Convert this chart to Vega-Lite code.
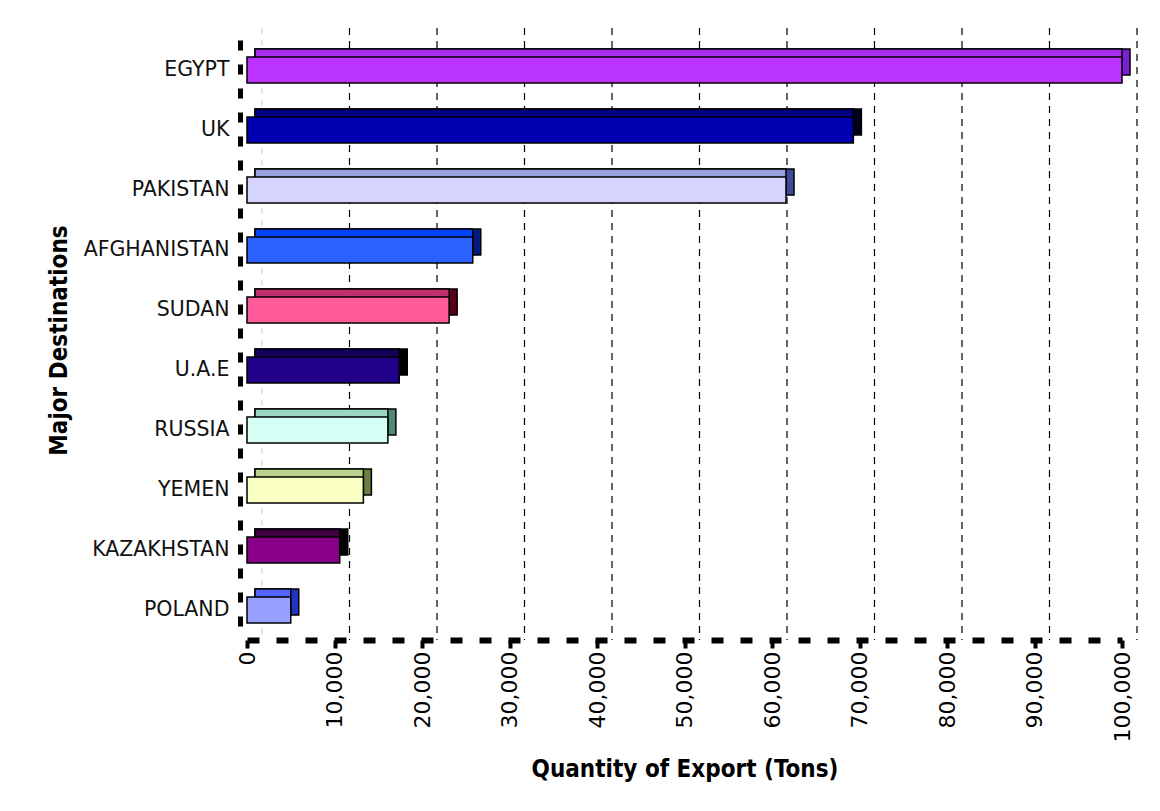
{
  "$schema": "https://vega.github.io/schema/vega-lite/v6.json",
  "autosize": "none",
  "width": 875,
  "height": 600,
  "padding": {"left": 247, "top": 40, "right": 38, "bottom": 171},
  "background": "white",
  "config": {
    "view": {"stroke": null},
    "font": "DejaVu Sans"
  },
  "datasets": {
    "exports": [
      {"country": "EGYPT", "tons": 100000},
      {"country": "UK", "tons": 69300},
      {"country": "PAKISTAN", "tons": 61600},
      {"country": "AFGHANISTAN", "tons": 25800},
      {"country": "SUDAN", "tons": 23100},
      {"country": "U.A.E", "tons": 17400},
      {"country": "RUSSIA", "tons": 16100},
      {"country": "YEMEN", "tons": 13300},
      {"country": "KAZAKHSTAN", "tons": 10600},
      {"country": "POLAND", "tons": 5000}
    ],
    "grid": [
      {"g": 10000}, {"g": 20000}, {"g": 30000}, {"g": 40000}, {"g": 50000},
      {"g": 60000}, {"g": 70000}, {"g": 80000}, {"g": 90000}, {"g": 100000}
    ],
    "grid0": [{"g": 0}]
  },
  "layer": [
    {
      "data": {"name": "grid0"},
      "mark": {"type": "rule", "color": "#cccccc", "strokeWidth": 1, "strokeDash": [6, 6], "xOffset": 15, "yOffset": -12, "y2Offset": -10},
      "encoding": {"x": {"field": "g", "type": "quantitative", "scale": {"domain": [0, 100000]}}}
    },
    {
      "data": {"name": "grid"},
      "mark": {"type": "rule", "color": "black", "strokeWidth": 1.2, "strokeDash": [7, 6], "xOffset": 15, "yOffset": -12, "y2Offset": -10},
      "encoding": {"x": {"field": "g", "type": "quantitative"}}
    },
    {
      "data": {"name": "exports"},
      "mark": {"type": "bar", "stroke": "black", "strokeWidth": 1.5, "xOffset": 8, "x2Offset": 8, "yOffset": -8, "y2Offset": -8},
      "encoding": {
        "y": {
          "field": "country", "type": "nominal", "sort": null, "title": "Major Destinations",
          "scale": {"paddingInner": 0.567, "paddingOuter": 0.283},
          "axis": {
            "offset": 7, "domainColor": "black", "domainWidth": 5, "domainDash": [10, 14],
            "ticks": false, "labelPadding": 11, "labelFont": "DejaVu Sans", "labelFontSize": 20.5, "labelColor": "#111111",
            "titleFont": "DejaVu Sans Condensed", "titleFontWeight": "bold", "titleFontSize": 24, "titleColor": "black", "titlePadding": 12
          }
        },
        "x": {"field": "tons", "type": "quantitative"},
        "x2": {"datum": 0},
        "fill": {
          "field": "country", "type": "nominal", "legend": null,
          "scale": {
            "domain": ["EGYPT", "UK", "PAKISTAN", "AFGHANISTAN", "SUDAN", "U.A.E", "RUSSIA", "YEMEN", "KAZAKHSTAN", "POLAND"],
            "range": ["#7a1fd6", "#000018", "#3e4a99", "#001a80", "#5a0018", "#000000", "#4e8a7a", "#6a8040", "#000000", "#1f35c0"]
          }
        }
      }
    },
    {
      "data": {"name": "exports"},
      "mark": {"type": "bar", "stroke": "black", "strokeWidth": 1.5, "xOffset": 0, "x2Offset": 8, "yOffset": -8, "y2Offset": -8},
      "encoding": {
        "y": {"field": "country", "type": "nominal", "sort": null},
        "x": {"field": "tons", "type": "quantitative"},
        "x2": {"datum": 0},
        "fill": {
          "field": "country", "type": "nominal", "legend": null,
          "scale": {
            "domain": ["EGYPT", "UK", "PAKISTAN", "AFGHANISTAN", "SUDAN", "U.A.E", "RUSSIA", "YEMEN", "KAZAKHSTAN", "POLAND"],
            "range": ["#a82ef0", "#000080", "#9aa0e0", "#0040ff", "#c0306a", "#14005a", "#9ad8c4", "#bcd28c", "#3e003e", "#5565ff"]
          }
        }
      }
    },
    {
      "data": {"name": "exports"},
      "mark": {"type": "bar", "stroke": "black", "strokeWidth": 1.5},
      "encoding": {
        "y": {"field": "country", "type": "nominal", "sort": null},
        "x": {
          "field": "tons", "type": "quantitative", "title": "Quantity of Export (Tons)",
          "scale": {"domain": [0, 100000]},
          "axis": {
            "values": [0, 10000, 20000, 30000, 40000, 50000, 60000, 70000, 80000, 90000, 100000],
            "format": ",d", "grid": false, "labelAngle": 270, "labelAlign": "right", "labelBaseline": "middle",
            "domainColor": "black", "domainWidth": 6, "domainDash": [12, 17],
            "tickColor": "black", "tickWidth": 4, "tickSize": 8, "labelPadding": 3,
            "labelFont": "DejaVu Sans", "labelFontSize": 22, "labelColor": "black",
            "titleFont": "DejaVu Sans Condensed", "titleFontWeight": "bold", "titleFontSize": 24, "titleColor": "black", "titlePadding": 16
          }
        },
        "x2": {"datum": 0},
        "fill": {
          "field": "country", "type": "nominal", "legend": null,
          "scale": {
            "domain": ["EGYPT", "UK", "PAKISTAN", "AFGHANISTAN", "SUDAN", "U.A.E", "RUSSIA", "YEMEN", "KAZAKHSTAN", "POLAND"],
            "range": ["#bb33ff", "#0000b0", "#d4d4ff", "#2b62ff", "#ff5c99", "#210088", "#d6fff6", "#faffc4", "#880088", "#98a0ff"]
          }
        }
      }
    }
  ],
  "resolve": {"scale": {"fill": "independent"}}
}
